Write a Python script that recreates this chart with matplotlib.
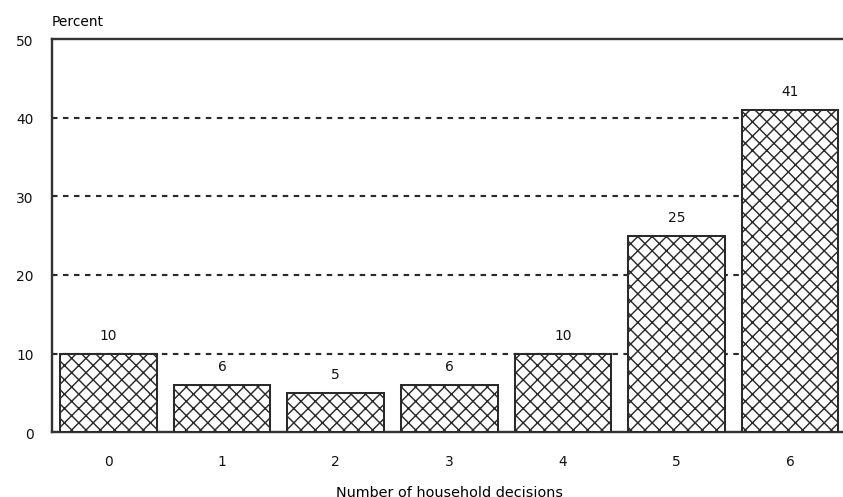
import matplotlib
matplotlib.use("Agg")
import matplotlib.pyplot as plt

categories = ["0", "1", "2", "3", "4", "5", "6"]
percent = [10, 6, 5, 6, 10, 25, 41]
yticks = [0, 10, 20, 30, 40, 50]

DPI = 86
plt.rcParams["font.family"] = "DejaVu Sans"
plt.rcParams["hatch.linewidth"] = 1.2
plt.rcParams["hatch.color"] = "#3a3a3a"
plt.rcParams["lines.scale_dashes"] = False

fig = plt.figure(figsize=(843 / DPI, 498 / DPI), dpi=DPI)
ax = fig.add_axes([51.5 / 843, 1 - 433.3 / 498, 795.5 / 843, 393.3 / 498])

x = list(range(len(categories)))
ax.bar(x, percent, width=0.85, color="white", edgecolor="#2a2a2a",
       linewidth=1.7, hatch="xx", zorder=3)
for xi, v in zip(x, percent):
    ax.text(xi, v + 1.5, str(v), ha="center", va="bottom", fontsize=11.5, color="#111")

for t in yticks[1:-1]:
    ax.axhline(t, color="#2a2a2a", lw=1.8, dashes=(4.6, 4.6), zorder=1)

ax.set_xlim(-0.5, len(categories) - 0.5)
ax.set_ylim(0, 50)
ax.set_yticks(yticks)
ax.set_xticks(x)
ax.set_xticklabels(categories)
ax.tick_params(axis="both", length=0, labelsize=11.5, colors="#111")
ax.tick_params(axis="y", pad=15)
ax.tick_params(axis="x", pad=18)
for s in ["left", "top", "bottom", "right"]:
    ax.spines[s].set_linewidth(2)
    ax.spines[s].set_color("#333")

ax.set_xlabel("Number of household decisions", fontsize=12, labelpad=14)
fig.text(52 / 843, 1 - 22 / 498, "Percent", ha="left", va="center", fontsize=11.5)

fig.savefig("out.png", dpi=DPI)
